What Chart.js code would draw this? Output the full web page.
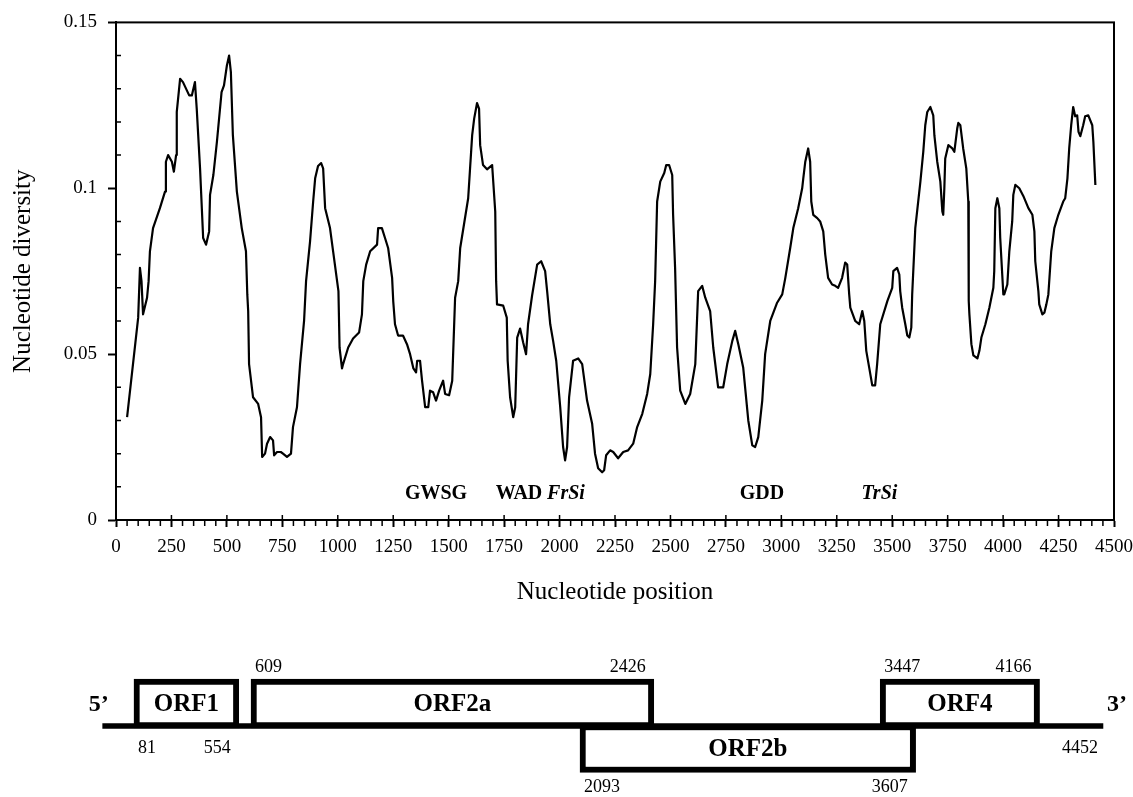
<!DOCTYPE html>
<html>
<head>
<meta charset="utf-8">
<script src="https://cdn.jsdelivr.net/npm/chart.js@4.4.0/dist/chart.umd.min.js"></script>
<style>
    body { margin: 0; background: #fff; }
    #wrap { position: relative; width: 1133px; height: 797px; }
    #plot { position: absolute; left: 0; top: 0; }
    #orfs { position: absolute; left: 0; top: 620px; }
</style>
</head>
<body>
<div id="wrap">
    <canvas id="plot" width="1133" height="620"></canvas>
    <canvas id="orfs" width="1133" height="177"></canvas>
</div>
<script>
// sliding window nucleotide diversity
const positions = [
    50, 100, 108, 115, 122, 140, 147, 153, 167, 198, 221, 225, 235, 252, 261, 271, 274, 289, 302, 330,
    342, 356, 364, 379, 393, 406, 420, 424, 439, 455, 476, 487, 500, 510, 518, 527, 545, 567, 586, 592,
    596, 600, 618, 641, 654, 659, 672, 681, 695, 708, 713, 726, 743, 753, 771, 789, 798, 816, 830, 848,
    857, 875, 889, 898, 911, 925, 934, 943, 965, 979, 1003, 1008, 1019, 1024, 1047, 1069, 1096, 1109, 1115, 1128,
    1146, 1177, 1182, 1199, 1213, 1227, 1245, 1250, 1258, 1272, 1294, 1312, 1326, 1341, 1353, 1358, 1371, 1380, 1394, 1408,
    1416, 1430, 1443, 1457, 1475, 1484, 1502, 1516, 1529, 1543, 1552, 1588, 1606, 1615, 1628, 1637, 1642, 1655, 1673, 1696,
    1710, 1714, 1718, 1746, 1762, 1766, 1777, 1791, 1800, 1809, 1822, 1836, 1849, 1858, 1876, 1899, 1917, 1935, 1944, 1958,
    1971, 1985, 2003, 2016, 2025, 2034, 2043, 2061, 2084, 2102, 2124, 2147, 2160, 2174, 2192, 2201, 2210, 2228, 2242, 2264,
    2287, 2309, 2332, 2350, 2373, 2395, 2409, 2422, 2431, 2440, 2454, 2472, 2481, 2494, 2508, 2512, 2521, 2530, 2544, 2567,
    2589, 2612, 2625, 2643, 2657, 2679, 2693, 2715, 2738, 2756, 2779, 2792, 2806, 2828, 2851, 2869, 2882, 2896, 2914, 2927,
    2950, 2981, 3004, 3018, 3040, 3054, 3076, 3094, 3099, 3108, 3121, 3130, 3135, 3144, 3162, 3175, 3189, 3198, 3211, 3229,
    3243, 3256, 3274, 3288, 3297, 3306, 3311, 3333, 3351, 3365, 3374, 3383, 3396, 3410, 3423, 3432, 3446, 3478, 3500, 3505,
    3522, 3532, 3536, 3545, 3559, 3568, 3577, 3586, 3590, 3604, 3627, 3640, 3649, 3658, 3672, 3685, 3690, 3703, 3717, 3726,
    3730, 3735, 3739, 3753, 3771, 3780, 3793, 3798, 3807, 3820, 3834, 3843, 3845, 3848, 3857, 3866, 3884, 3893, 3902, 3920,
    3938, 3956, 3960, 3965, 3974, 3983, 3987, 4001, 4005, 4019, 4028, 4041, 4046, 4055, 4073, 4091, 4114, 4132, 4141, 4145,
    4159, 4163, 4177, 4186, 4195, 4204, 4217, 4231, 4249, 4271, 4280, 4290, 4298, 4307, 4316, 4325, 4334, 4340, 4348, 4361,
    4370, 4384, 4402, 4407, 4416
];
const diversity = [
    .031, .061, .076, .072, .062, .067, .072, .081, .088, .094, .099, .108, .110, .108, .105, .110, .123, .133, .132, .128,
    .128, .132, .124, .106, .085, .083, .087, .098, .104, .114, .129, .131, .137, .140, .135, .116, .099, .088, .081, .068,
    .063, .047, .037, .035, .031, .019, .020, .023, .025, .024, .0195, .0205, .0205, .020, .019, .020, .028, .034, .047, .060,
    .072, .084, .096, .103, .1067, .1076, .106, .094, .088, .081, .069, .052, .0457, .047, .052, .0547, .0565, .062, .072, .077,
    .081, .083, .088, .088, .085, .082, .073, .066, .059, .0556, .0556, .053, .050, .0457, .0445, .048, .048, .042, .034, .034,
    .039, .0385, .036, .039, .042, .038, .0376, .042, .067, .072, .082, .097, .116, .121, .1257, .124, .113, .107, .1057, .107,
    .093, .072, .065, .0646, .061, .048, .037, .031, .034, .055, .0577, .0535, .050, .059, .0676, .077, .078, .075, .069, .059,
    .054, .048, .034, .022, .018, .022, .037, .048, .0487, .047, .036, .029, .020, .0156, .0144, .015, .0195, .021, .0205, .0186,
    .0205, .021, .023, .028, .032, .038, .044, .059, .072, .096, .102, .1046, .107, .107, .104, .092, .076, .052, .039, .035,
    .038, .047, .069, .0706, .067, .063, .052, .040, .040, .047, .054, .057, .053, .046, .030, .0225, .022, .025, .036, .050,
    .060, .0655, .068, .073, .082, .088, .094, .100, .103, .108, .112, .108, .096, .092, .091, .090, .087, .080, .073, .071,
    .0706, .070, .073, .0776, .077, .068, .064, .060, .059, .063, .060, .051, .046, .0406, .0406, .047, .059, .066, .070, .075,
    .076, .074, .069, .064, .059, .0556, .055, .058, .068, .088, .102, .111, .119, .123, .1245, .122, .116, .108, .102, .093,
    .092, .100, .109, .113, .112, .111, .118, .1197, .119, .112, .106, .096, .066, .062, .053, .0496, .0487, .051, .055, .059,
    .064, .070, .075, .094, .097, .094, .085, .068, .068, .071, .081, .090, .098, .101, .100, .0977, .094, .092, .087, .078,
    .069, .065, .062, .0625, .065, .068, .081, .088, .092, .096, .097, .103, .112, .119, .1245, .1217, .122, .117, .1157, .119,
    .1217, .122, .119, .114, .101
];

// motifs marked under the curve
const motifNames = ['GWSG', 'WAD', 'FrSi', 'GDD', 'TrSi'];
const motifPositions = [1443, 1817, 2029, 2913, 3442];
const motifItalic = [false, false, true, false, true];
const motifLevel = 0.008;

// genome map
const genomeLength = 4452;
const orfNames = ['ORF1', 'ORF2a', 'ORF2b', 'ORF4'];
const orfStarts = [81, 609, 2093, 3447];
const orfEnds = [554, 2426, 3607, 4166];
const orfRows = ['upper', 'upper', 'lower', 'upper'];
const orfLabelSide = ['below', 'above', 'below', 'above'];

const serif = '"Liberation Serif", "Times New Roman", Times, serif';
Chart.defaults.font.family = serif;
Chart.defaults.color = '#000';

const isMajorY = (v) => Math.round(v * 100) % 5 === 0;

const frameAndMarks = {
    id: 'frameAndMarks',
    afterDraw(chart) {
        const {ctx, chartArea: a, scales: {x, y}} = chart;
        ctx.save();
        ctx.strokeStyle = '#000';
        ctx.lineWidth = 2;
        ctx.strokeRect(a.left, a.top, a.right - a.left, a.bottom - a.top);

        // minor ticks and the inner half of the major x ticks
        ctx.lineWidth = 1.5;
        ctx.beginPath();
        x.ticks.forEach((t) => {
            const px = x.getPixelForValue(t.value);
            if (t.value % 250 === 0) {
                ctx.moveTo(px, a.bottom - 5);
                ctx.lineTo(px, a.bottom);
            } else {
                ctx.moveTo(px, a.bottom);
                ctx.lineTo(px, a.bottom + 6);
            }
        });
        y.ticks.forEach((t) => {
            if (isMajorY(t.value)) {
                return;
            }
            const py = y.getPixelForValue(t.value);
            ctx.moveTo(a.left, py);
            ctx.lineTo(a.left + 5, py);
        });
        ctx.stroke();

        ctx.fillStyle = '#000';
        ctx.textAlign = 'center';
        ctx.textBaseline = 'middle';
        motifNames.forEach((name, i) => {
            ctx.font = (motifItalic[i] ? 'italic ' : '') + 'bold 20px ' + serif;
            ctx.fillText(name, x.getPixelForValue(motifPositions[i]), y.getPixelForValue(motifLevel));
        });
        ctx.restore();
    }
};

new Chart(document.getElementById('plot'), {
    type: 'line',
    data: {
        datasets: [{
            label: 'Nucleotide diversity',
            data: positions.map((p, i) => ({x: p, y: diversity[i]})),
            borderColor: '#000',
            borderWidth: 2.2,
            borderJoinStyle: 'round',
            pointRadius: 0,
            tension: 0,
            fill: false
        }]
    },
    options: {
        responsive: false,
        animation: false,
        devicePixelRatio: 1,
        layout: {padding: {top: 21, right: 19, left: 0, bottom: 0}},
        plugins: {legend: {display: false}, tooltip: {enabled: false}},
        scales: {
            x: {
                type: 'linear',
                min: 0,
                max: 4500,
                afterFit: (s) => {
                    s.height = 100;
                    s.paddingLeft = 0;
                    s.paddingRight = 0;
                },
                ticks: {
                    stepSize: 50,
                    autoSkip: false,
                    maxRotation: 0,
                    padding: 9,
                    font: {size: 19},
                    callback: (v) => (v % 250 === 0 ? String(v) : '')
                },
                grid: {
                    drawOnChartArea: false,
                    tickLength: 7,
                    tickWidth: 2,
                    tickColor: (c) => (c.tick && c.tick.value % 250 === 0 ? '#000' : 'rgba(0,0,0,0)')
                },
                border: {color: '#000', width: 2},
                title: {display: true, text: 'Nucleotide position', font: {size: 25}, padding: {top: 0, bottom: 13}}
            },
            y: {
                min: 0,
                max: 0.15,
                afterFit: (s) => { s.width = 116; },
                ticks: {
                    stepSize: 0.01,
                    autoSkip: false,
                    padding: 11,
                    font: {size: 19},
                    callback: (v) => (isMajorY(v) ? String(Math.round(v * 100) / 100) : '')
                },
                grid: {
                    drawOnChartArea: false,
                    tickLength: 8,
                    tickWidth: 2,
                    tickColor: (c) => (c.tick && isMajorY(c.tick.value) ? '#000' : 'rgba(0,0,0,0)')
                },
                border: {color: '#000', width: 2},
                title: {display: true, text: 'Nucleotide diversity', font: {size: 25}, padding: {top: 8, bottom: 0}}
            }
        }
    },
    plugins: [frameAndMarks]
});

const orfText = {
    id: 'orfText',
    afterDatasetsDraw(chart) {
        const ctx = chart.ctx;
        const line = chart.getDatasetMeta(orfNames.length).data[0].getProps(['x', 'y', 'base'], true);
        ctx.save();
        ctx.fillStyle = '#000';
        ctx.textBaseline = 'middle';
        orfNames.forEach((name, i) => {
            const {x: end, y: cy, base: start, height: h} =
                chart.getDatasetMeta(i).data[0].getProps(['x', 'y', 'base', 'height'], true);
            ctx.font = 'bold 25px ' + serif;
            ctx.textAlign = 'center';
            ctx.fillText(name, (start + end) / 2, cy + 1);

            let ly;
            if (orfLabelSide[i] === 'above') {
                ly = cy - h / 2 - 12;
            } else if (orfRows[i] === 'upper') {
                ly = line.y + 22;
            } else {
                ly = cy + h / 2 + 15;
            }
            ctx.font = '18px ' + serif;
            ctx.textAlign = 'left';
            ctx.fillText(String(orfStarts[i]), start + 4, ly);
            ctx.textAlign = 'right';
            ctx.fillText(String(orfEnds[i]), end - 8, ly);
        });
        ctx.font = '18px ' + serif;
        ctx.textAlign = 'right';
        ctx.fillText(String(genomeLength), line.x - 5, line.y + 22);

        ctx.font = 'bold 24px ' + serif;
        ctx.textAlign = 'center';
        ctx.fillText('5\u2019', line.base - 4, line.y - 21);
        ctx.fillText('3\u2019', line.x + 14, line.y - 21);
        ctx.restore();
    }
};

const orfSets = orfNames.map((name, i) => ({
    label: name,
    data: [{y: orfRows[i], x: [orfStarts[i], orfEnds[i]]}],
    backgroundColor: '#fff',
    borderColor: '#000',
    borderWidth: 6,
    borderSkipped: false,
    barThickness: orfRows[i] === 'upper' ? 49 : 48,
    grouped: false,
    clip: false,
    order: 1
}));
orfSets.push({
    label: 'genome',
    data: [{y: 'genome', x: [-60, genomeLength]}],
    backgroundColor: '#000',
    borderWidth: 0,
    barThickness: 5,
    grouped: false,
    clip: false,
    order: 2
});

new Chart(document.getElementById('orfs'), {
    type: 'bar',
    data: {labels: ['upper', 'genome', 'lower'], datasets: orfSets},
    options: {
        indexAxis: 'y',
        responsive: false,
        animation: false,
        devicePixelRatio: 1,
        layout: {padding: {left: 102.7, right: 19.4, top: 72.25, bottom: 37.25}},
        plugins: {legend: {display: false}, tooltip: {enabled: false}},
        scales: {
            x: {type: 'linear', min: -60, max: 4500, display: false},
            y: {type: 'category', display: false}
        }
    },
    plugins: [orfText]
});
</script>
</body>
</html>
